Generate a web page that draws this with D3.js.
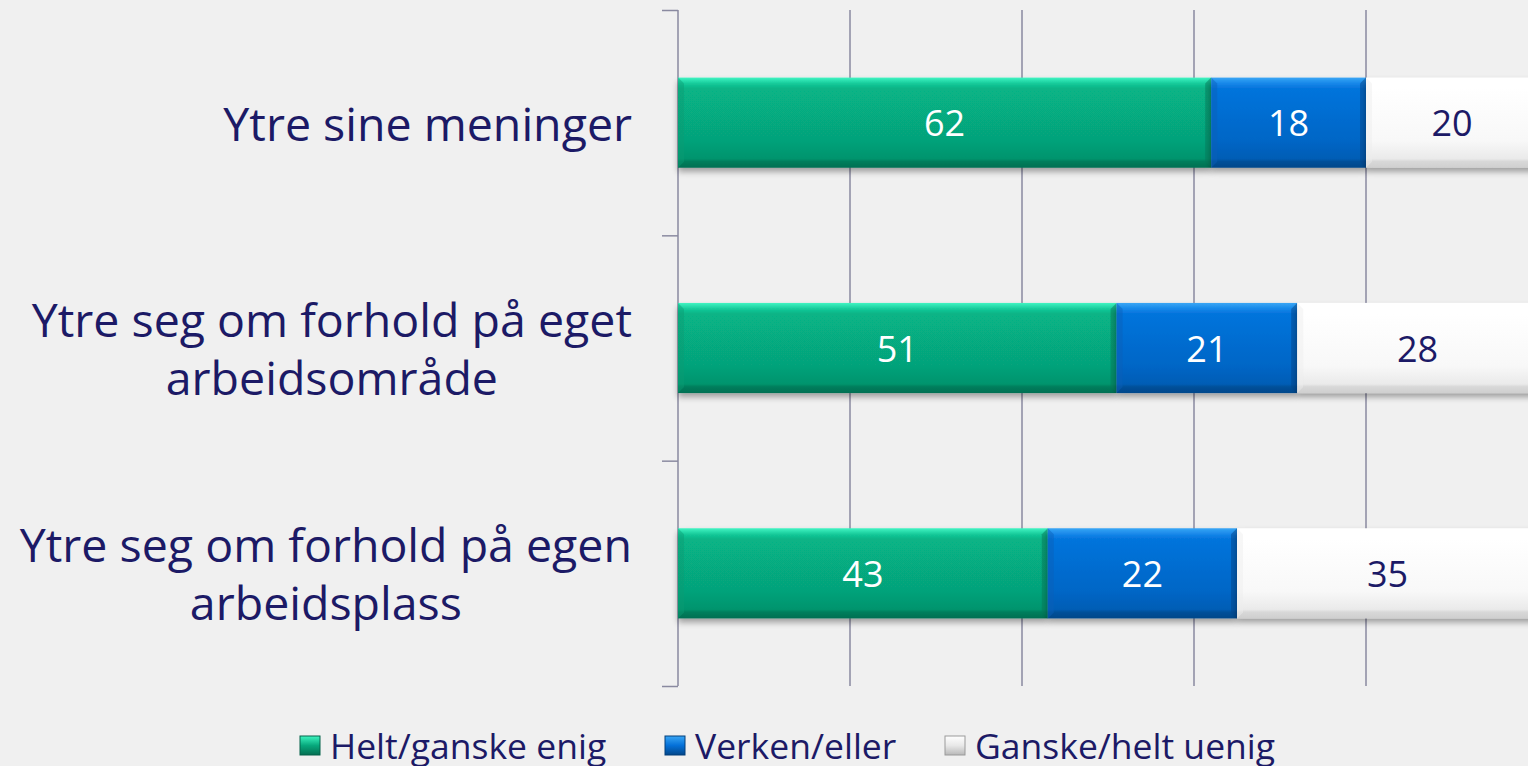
<!DOCTYPE html>
<html><head><meta charset="utf-8">
<script src="https://cdn.jsdelivr.net/npm/d3@7"></script>
<style>
html,body{margin:0;padding:0;background:#f0f0f0;overflow:hidden}
text{font-family:"Open Sans","Noto Sans",sans-serif}
</style></head><body>
<svg id="c" width="1528" height="766"></svg>
<script>
const categories = [
  ["Ytre sine meninger"],
  ["Ytre seg om forhold på eget", "arbeidsområde"],
  ["Ytre seg om forhold på egen", "arbeidsplass"]
];
const seriesNames = ["Helt/ganske enig", "Verken/eller", "Ganske/helt uenig"];
const enig = [62, 51, 43];
const verken = [18, 21, 22];
const uenig = [20, 28, 35];
const xTicks = [0, 20, 40, 60, 80, 100];

const svg = d3.select("#c");
const W = 1528, H = 766;
svg.append("rect").attr("width", W).attr("height", H).attr("fill", "#f0f0f0");

const x = d3.scaleLinear().domain([0, 100]).range([678, 1538]);
const y = d3.scaleBand().domain(d3.range(categories.length)).range([10, 686]).paddingInner(0.6).paddingOuter(0.3);
const textCol = "#1c1a66";

const defs = svg.append("defs");
const cols = [
  {id:"g0", stops:[["0%","#40f4c2"],["7%","#14c898"],["12%","#07b486"],["70%","#06a27a"],["90%","#05946d"],["93%","#067e5c"],["100%","#056f52"]]},
  {id:"g1", stops:[["0%","#39a6f5"],["7%","#1485e8"],["12%","#0474dc"],["70%","#0366c6"],["90%","#045db5"],["93%","#04509a"],["100%","#03478a"]]},
  {id:"g2", stops:[["0%","#ffffff"],["12%","#ffffff"],["70%","#f8f8f8"],["90%","#eaeaea"],["93%","#d8d8d8"],["100%","#cfcfcf"]]}
];
cols.forEach(c => {
  const g = defs.append("linearGradient").attr("id", c.id).attr("x1",0).attr("y1",0).attr("x2",0).attr("y2",1);
  c.stops.forEach(s => g.append("stop").attr("offset", s[0]).attr("stop-color", s[1]));
});
const f = defs.append("filter").attr("id","sh").attr("x","-5%").attr("y","-20%").attr("width","110%").attr("height","150%");
f.append("feGaussianBlur").attr("in","SourceAlpha").attr("stdDeviation",3);
f.append("feOffset").attr("dx",0).attr("dy",4).attr("result","b");
f.append("feComponentTransfer").append("feFuncA").attr("type","linear").attr("slope",0.35);
const m = f.append("feMerge"); m.append("feMergeNode"); m.append("feMergeNode").attr("in","SourceGraphic");

const lg = [["#3ef5c0","#07a87c","#056f52"],["#39a6f5","#0470d8","#03478a"],["#ffffff","#e8e8e8","#b8b8b8"]];
lg.forEach((c,i)=>{
  const g = defs.append("linearGradient").attr("id","l"+i).attr("x1",0).attr("y1",0).attr("x2",0).attr("y2",1);
  g.append("stop").attr("offset","0%").attr("stop-color",c[0]);
  g.append("stop").attr("offset","50%").attr("stop-color",c[1]);
  g.append("stop").attr("offset","100%").attr("stop-color",c[2]);
});

// gridlines
svg.append("g").selectAll("line").data(xTicks.slice(1)).join("line")
  .attr("x1", d => x(d)).attr("x2", d => x(d)).attr("y1", 10).attr("y2", 686)
  .attr("stroke", "#8a8aa0").attr("stroke-width", 1.5);

// y axis
const yAxisScale = d3.scaleLinear().domain([0, categories.length]).range([10, 686]);
const ax = svg.append("g").attr("transform", "translate(678,0)")
  .call(d3.axisLeft(yAxisScale).tickValues(d3.range(categories.length+1)).tickSize(16).tickFormat(""));
ax.selectAll("path").attr("stroke", "#8a8aa0").attr("stroke-width", 1.5).attr("d", "M0,10V686");
ax.selectAll("line").attr("stroke", "#8a8aa0").attr("stroke-width", 1.5);

// stacks
const rows = categories.map((c, i) => ({i, v:[enig[i], verken[i], uenig[i]]}));
const stackData = rows.map(r => { let acc = 0; return r.v.map((v, s) => { const o = {i:r.i, s, x0:acc, x1:acc+v, v}; acc += v; return o; }); }).flat();

const bars = svg.append("g").selectAll("g").data(stackData).join("g");
bars.append("rect")
  .attr("x", d => x(d.x0)).attr("y", d => y(d.i))
  .attr("width", d => x(d.x1) - x(d.x0)).attr("height", y.bandwidth())
  .attr("fill", d => `url(#g${d.s})`).attr("filter","url(#sh)");
bars.append("path")
  .attr("d", d => { const x0=x(d.x0), y0=y(d.i), h=y.bandwidth(); return `M${x0},${y0}L${x0+6},${y0+6}L${x0+6},${y0+h-6}L${x0},${y0+h}Z`; })
  .attr("fill", d => ["#0a9c74","#0a5fb8","#eeeeee"][d.s]).attr("opacity",0.45);
bars.append("path")
  .attr("d", d => { const x1=x(d.x1), y0=y(d.i), h=y.bandwidth(); return `M${x1},${y0}L${x1-6},${y0+6}L${x1-6},${y0+h-6}L${x1},${y0+h}Z`; })
  .attr("fill", d => ["#057a5a","#03488e","#d6d6d6"][d.s]).attr("opacity",0.5);
bars.append("text")
  .attr("x", d => (x(d.x0) + x(d.x1)) / 2).attr("y", d => y(d.i) + y.bandwidth()/2)
  .attr("text-anchor", "middle").attr("dominant-baseline", "central")
  .attr("font-size", 36).attr("fill", d => d.s === 2 ? textCol : "#ffffff")
  .text(d => d.v);

// category labels: block right-aligned at 632, lines centred within block
const lab = svg.append("g").selectAll("text").data(categories).join("text")
  .attr("text-anchor", "middle").attr("font-size", 46.5).attr("fill", textCol);
lab.each(function(lines, i) {
  const cy = y(i) + y.bandwidth()/2;
  const lh = 58;
  const start = cy - (lines.length - 1) * lh / 2;
  const t = d3.select(this);
  const ts = t.selectAll("tspan").data(lines).join("tspan")
    .attr("y", (d, k) => start + k * lh).attr("dominant-baseline", "central").text(d => d);
  let maxW = 0;
  ts.each(function(){ maxW = Math.max(maxW, this.getComputedTextLength()); });
  ts.attr("x", 632 - maxW / 2);
});

// legend
const legX = [300, 665, 945];
const leg = svg.append("g").selectAll("g").data(seriesNames).join("g")
  .attr("transform", (d, i) => `translate(${legX[i]},745)`);
leg.append("rect").attr("x", 0).attr("y", -9).attr("width", 20).attr("height", 19)
  .attr("fill", (d, i) => `url(#l${i})`).attr("stroke", (d,i)=>["#05634a","#033f7a","#9a9a9a"][i]).attr("stroke-width",1);
leg.append("text").attr("x", 30).attr("y", 0).attr("dominant-baseline", "central")
  .attr("font-size", 35.5).attr("fill", textCol).text(d => d);
</script>
</body></html>
